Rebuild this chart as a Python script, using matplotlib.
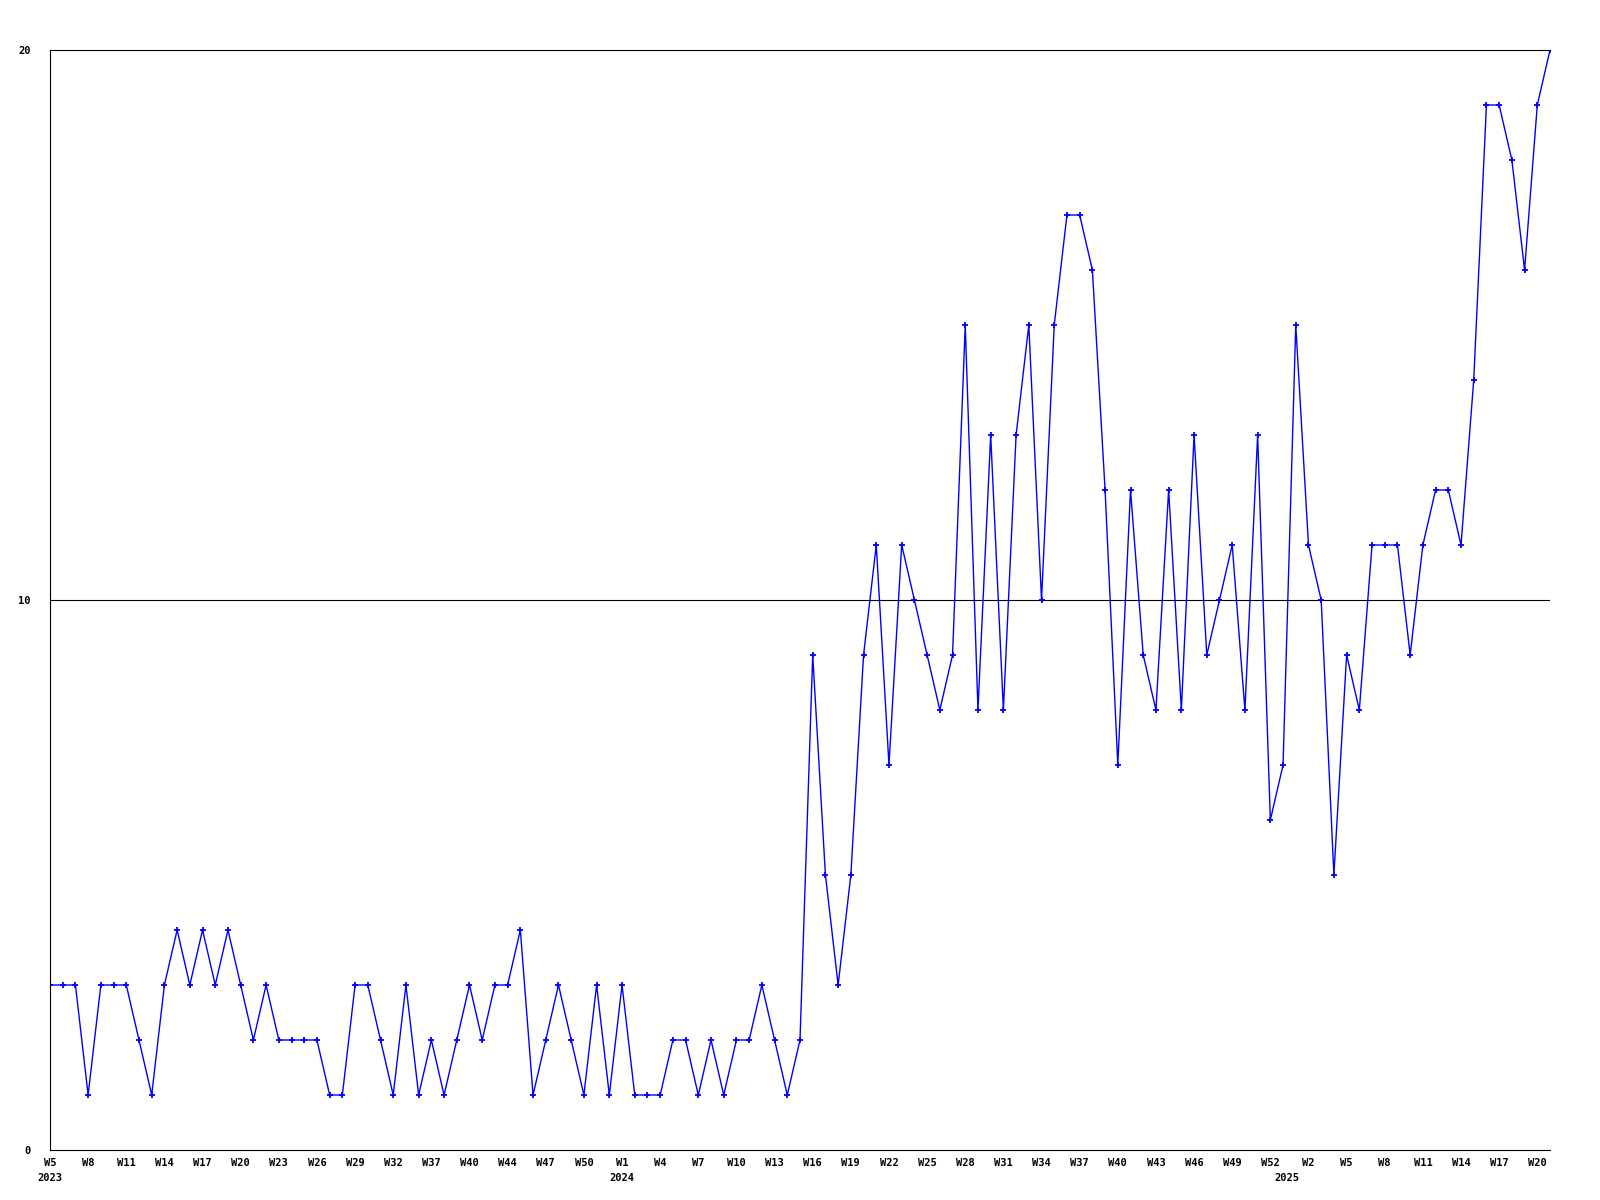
import matplotlib
matplotlib.use("Agg")
import matplotlib.pyplot as plt
import matplotlib.transforms as mtransforms

# Weekly values, W5 2023 .. W21 2025 (one value per plotted week)
values = [3, 3, 3, 1, 3, 3, 3, 2, 1, 3, 4, 3, 4, 3, 4, 3, 2, 3, 2, 2,
          2, 2, 1, 1, 3, 3, 2, 1, 3, 1, 2, 1, 2, 3, 2, 3, 3, 4, 1, 2,
          3, 2, 1, 3, 1, 3, 1, 1, 1, 2, 2, 1, 2, 1, 2, 2, 3, 2, 1, 2,
          9, 5, 3, 5, 9, 11, 7, 11, 10, 9, 8, 9, 15, 8, 13, 8, 13, 15, 10, 15,
          17, 17, 16, 12, 7, 12, 9, 8, 12, 8, 13, 9, 10, 11, 8, 13, 6, 7, 15, 11,
          10, 5, 9, 8, 11, 11, 11, 9, 11, 12, 12, 11, 14, 19, 19, 18, 16, 19, 20]

week_labels = ["W5", "W8", "W11", "W14", "W17", "W20", "W23", "W26", "W29", "W32",
               "W37", "W40", "W44", "W47", "W50", "W1", "W4", "W7", "W10", "W13",
               "W16", "W19", "W22", "W25", "W28", "W31", "W34", "W37", "W40", "W43",
               "W46", "W49", "W52", "W2", "W5", "W8", "W11", "W14", "W17", "W20"]
week_label_step = 3
year_labels = ["2023", "2024", "2025"]
year_label_pos = [0, 45, 97.3]
y_ticks = [0, 10, 20]

font = dict(family="DejaVu Sans Mono", weight="bold", size=7.5)

fig = plt.figure(figsize=(16, 12), dpi=100)
ax = fig.add_axes([50 / 1600, 1 - 1150 / 1200, 1500 / 1600, 1100 / 1200])

x = list(range(len(values)))
ax.plot(x, values, color="#0000ff", linewidth=1.0, marker="+", markersize=4,
        markeredgewidth=1.3, clip_on=True)

ax.set_xlim(0, len(values) - 1)
ax.set_ylim(0, 20)

ax.set_yticks(y_ticks)
ax.set_yticklabels([str(t) for t in y_ticks], **font)
ax.axhline(10, color="black", linewidth=0.8, zorder=0)

tick_pos = [i * week_label_step for i in range(len(week_labels))]
ax.set_xticks(tick_pos)
ax.set_xticklabels(week_labels, **font)
ax.tick_params(axis="both", length=0)
ax.tick_params(axis="x", pad=6)
ax.tick_params(axis="y", pad=14)

trans = mtransforms.blended_transform_factory(ax.transData, fig.transFigure)
for lbl, pos in zip(year_labels, year_label_pos):
    ax.text(pos, 1 - 1178 / 1200, lbl, transform=trans, ha="center", va="center",
            **font)

for side in ["left", "bottom", "top"]:
    ax.spines[side].set_color("black")
    ax.spines[side].set_linewidth(0.8)
ax.spines["right"].set_visible(False)

fig.savefig("out.png", dpi=100)
